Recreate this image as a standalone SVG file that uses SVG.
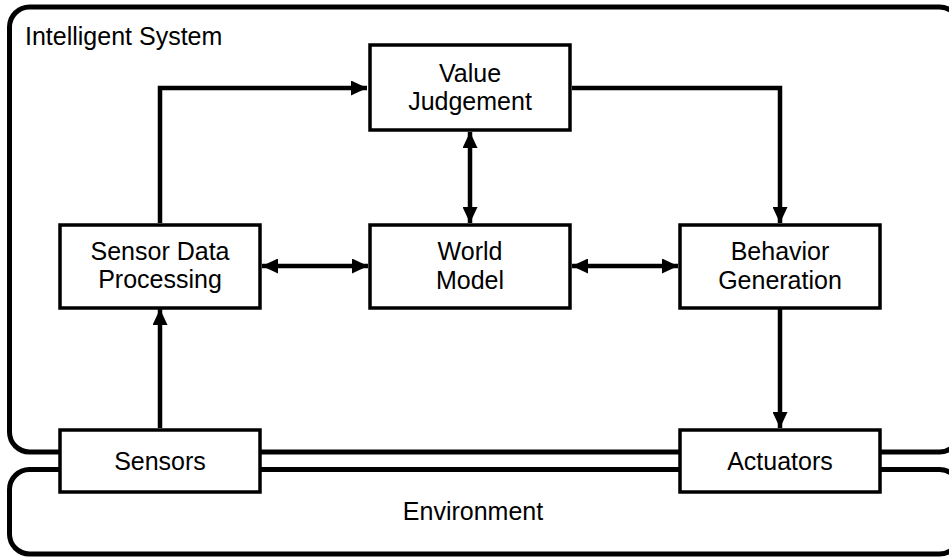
<svg xmlns="http://www.w3.org/2000/svg" width="949" height="557" viewBox="0 0 949 557">
  <style>
    .frame { fill: none; stroke: #000; stroke-width: 5; }
    .box { fill: #fff; stroke: #000; stroke-width: 3.5; }
    .lbl { font-family: "Liberation Sans", Arial, sans-serif; font-size: 25px; fill: #000; }
    .mid { text-anchor: middle; }
    .wire { fill: none; stroke: #000; stroke-width: 4.5; }
  </style>
  <defs>
    <marker id="head" markerUnits="userSpaceOnUse" markerWidth="17" markerHeight="15" refX="16" refY="7.5" orient="auto-start-reverse">
      <path d="M0,0 L16,7.5 L0,15 z" fill="#000"/>
    </marker>
  </defs>
  <rect width="949" height="557" fill="#fff"/>

  <!-- System boundary and environment -->
  <g id="intelligent-system">
    <rect class="frame" x="9.5" y="7" width="950" height="445" rx="20"/>
    <text class="lbl" x="25" y="45">Intelligent System</text>
  </g>
  <g id="environment">
    <rect class="frame" x="9.5" y="469.5" width="950" height="84.5" rx="20"/>
    <text class="lbl mid" x="473" y="520">Environment</text>
  </g>

  <!-- Connectors -->
  <g id="connectors">
    <path class="wire" d="M160,223 V88 H367" marker-end="url(#head)"/>
    <path class="wire" d="M572,88 H780 V223" marker-end="url(#head)"/>
    <path class="wire" d="M470,132 V223" marker-start="url(#head)" marker-end="url(#head)"/>
    <path class="wire" d="M262,266 H368" marker-start="url(#head)" marker-end="url(#head)"/>
    <path class="wire" d="M572,266 H678" marker-start="url(#head)" marker-end="url(#head)"/>
    <path class="wire" d="M160,428 V309" marker-end="url(#head)"/>
    <path class="wire" d="M780,309 V428" marker-end="url(#head)"/>
  </g>

  <!-- Nodes -->
  <g id="value-judgement">
    <rect class="box" x="370" y="45" width="200" height="85"/>
    <text class="lbl mid" x="470" y="81.5">Value</text>
    <text class="lbl mid" x="470" y="110">Judgement</text>
  </g>
  <g id="sensor-data-processing">
    <rect class="box" x="60" y="225" width="200" height="83"/>
    <text class="lbl mid" x="160" y="259.5">Sensor Data</text>
    <text class="lbl mid" x="160" y="288">Processing</text>
  </g>
  <g id="world-model">
    <rect class="box" x="370" y="225" width="200" height="83"/>
    <text class="lbl mid" x="470" y="260">World</text>
    <text class="lbl mid" x="470" y="288.5">Model</text>
  </g>
  <g id="behavior-generation">
    <rect class="box" x="680" y="225" width="200" height="83"/>
    <text class="lbl mid" x="780" y="260">Behavior</text>
    <text class="lbl mid" x="780" y="288.5">Generation</text>
  </g>
  <g id="sensors">
    <rect class="box" x="60" y="430" width="200" height="62"/>
    <text class="lbl mid" x="160" y="470">Sensors</text>
  </g>
  <g id="actuators">
    <rect class="box" x="680" y="430" width="200" height="62"/>
    <text class="lbl mid" x="780" y="470">Actuators</text>
  </g>
</svg>
